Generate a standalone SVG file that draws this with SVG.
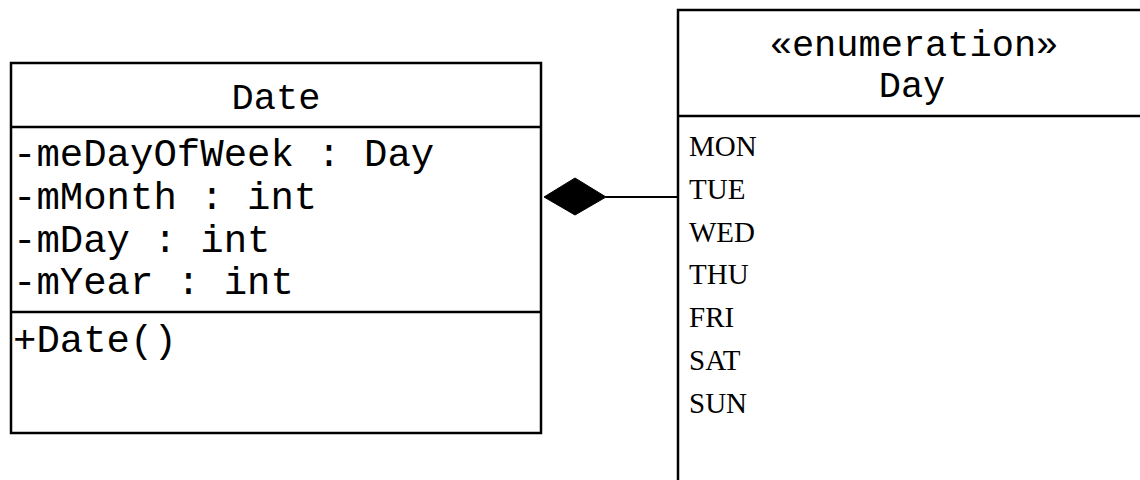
<svg xmlns="http://www.w3.org/2000/svg" width="1140" height="480" viewBox="0 0 1140 480">
<style>
.box{fill:#fff;stroke:#000;stroke-width:2.5}
.div{stroke:#000;stroke-width:2.5}
.mono{font-family:"Liberation Mono","DejaVu Sans Mono",monospace;font-size:39px;fill:#000}
.head{font-family:"Liberation Mono","DejaVu Sans Mono",monospace;font-size:37px;fill:#000}
.lit{font-family:"Liberation Serif","DejaVu Serif",serif;font-size:29px;fill:#000}
.conn{stroke:#000;stroke-width:2;fill:none}
</style>
<rect width="1140" height="480" fill="#fff"/>
<g id="Date">
<rect class="box" x="11" y="63" width="530" height="370"/>
<line class="div" x1="11" y1="127" x2="541" y2="127"/>
<line class="div" x1="11" y1="312" x2="541" y2="312"/>
<text class="head" x="276" y="109" text-anchor="middle">Date</text>
<text class="mono" x="13" y="166">-meDayOfWeek : Day</text>
<text class="mono" x="13" y="209">-mMonth : int</text>
<text class="mono" x="13" y="252">-mDay : int</text>
<text class="mono" x="13" y="294">-mYear : int</text>
<text class="mono" x="13" y="352">+Date()</text>
</g>
<g id="Day">
<rect class="box" x="678" y="10" width="480" height="490"/>
<line class="div" x1="678" y1="116" x2="1140" y2="116"/>
<text class="head" x="914" y="56" text-anchor="middle">«enumeration»</text>
<text class="head" x="912" y="97" text-anchor="middle">Day</text>
<text class="lit" x="689" y="156">MON</text>
<text class="lit" x="689" y="199">TUE</text>
<text class="lit" x="689" y="241.5">WED</text>
<text class="lit" x="689" y="284">THU</text>
<text class="lit" x="689" y="327">FRI</text>
<text class="lit" x="689" y="370">SAT</text>
<text class="lit" x="689" y="413">SUN</text>
</g>
<g id="connectors">
<line class="conn" x1="605" y1="197" x2="678" y2="197"/>
<polygon points="544,197 575,178 606,197 575,215" fill="#000" stroke="#000" stroke-width="1"/>
</g>
</svg>
